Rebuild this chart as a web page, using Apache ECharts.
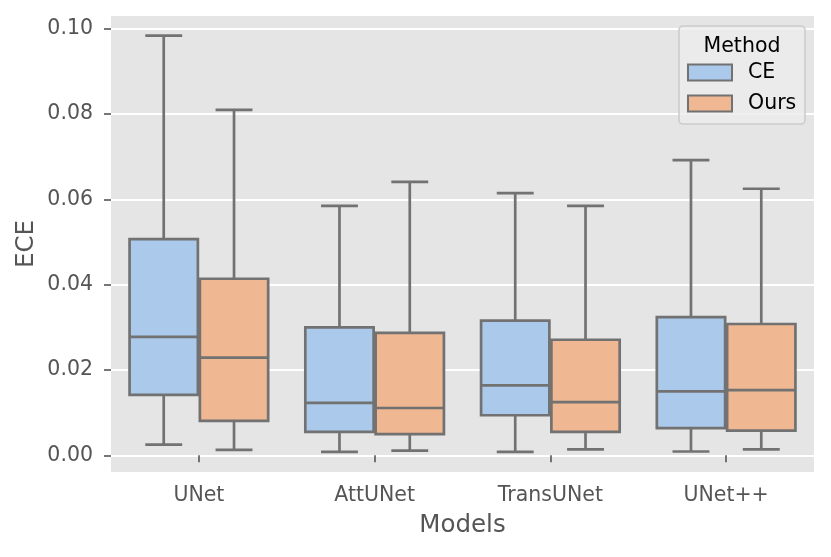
<!DOCTYPE html>
<html>
<head>
<meta charset="utf-8">
<script src="https://cdn.jsdelivr.net/npm/echarts@6/dist/echarts.min.js"></script>
<style>
  html, body { margin: 0; padding: 0; background: #fff; }
  #chart { width: 831px; height: 557px; }
</style>
</head>
<body>
<div id="chart"></div>
<script>
// models on the x axis
var categories = ['UNet', 'AttUNet', 'TransUNet', 'UNet++'];
// [low whisker, Q1, median, Q3, high whisker] per model
var ceStats = [
    [0.0025, 0.0142, 0.0278, 0.0507, 0.0984],
    [0.0008, 0.0055, 0.0123, 0.0300, 0.0585],
    [0.0008, 0.0094, 0.0164, 0.0316, 0.0615],
    [0.0009, 0.0064, 0.0150, 0.0324, 0.0692]
];
var oursStats = [
    [0.0013, 0.0081, 0.0229, 0.0414, 0.0810],
    [0.0011, 0.0050, 0.0111, 0.0287, 0.0641],
    [0.0014, 0.0055, 0.0125, 0.0271, 0.0585],
    [0.0014, 0.0058, 0.0153, 0.0308, 0.0625]
];
var yTicks = [0, 0.02, 0.04, 0.06, 0.08, 0.10];

var FONT = 'DejaVu Sans';
var LINE = '#727272';
var LW = 2.7;
var colors = { CE: '#abc9ea', Ours: '#efb792' };

function toData(stats) {
    var out = [];
    for (var i = 0; i < stats.length; i++) {
        out.push([i].concat(stats[i]));
    }
    return out;
}

// side: -1 left box (CE), +1 right box (Ours)
function makeRender(side, fill) {
    return function (params, api) {
        var ci = api.value(0);
        var band = api.size([1, 0])[0];
        var boxW = band * 0.4 - 2;
        var capW = band * 0.21;
        var cx = api.coord([ci, 0])[0] + side * band * 0.2;
        var yLow = api.coord([ci, api.value(1)])[1];
        var yQ1 = api.coord([ci, api.value(2)])[1];
        var yMed = api.coord([ci, api.value(3)])[1];
        var yQ3 = api.coord([ci, api.value(4)])[1];
        var yHigh = api.coord([ci, api.value(5)])[1];
        var ls = { stroke: LINE, lineWidth: LW, fill: null };
        return {
            type: 'group',
            children: [
                { type: 'line', shape: { x1: cx, y1: yQ3, x2: cx, y2: yHigh }, style: ls },
                { type: 'line', shape: { x1: cx, y1: yQ1, x2: cx, y2: yLow }, style: ls },
                { type: 'line', shape: { x1: cx - capW / 2, y1: yHigh, x2: cx + capW / 2, y2: yHigh }, style: ls },
                { type: 'line', shape: { x1: cx - capW / 2, y1: yLow, x2: cx + capW / 2, y2: yLow }, style: ls },
                {
                    type: 'rect',
                    shape: { x: cx - boxW / 2, y: yQ3, width: boxW, height: yQ1 - yQ3 },
                    style: { fill: fill, stroke: LINE, lineWidth: LW }
                },
                { type: 'line', shape: { x1: cx - boxW / 2, y1: yMed, x2: cx + boxW / 2, y2: yMed }, style: ls }
            ]
        };
    };
}

var myChart = echarts.init(document.getElementById('chart'));
myChart.setOption({
    animation: false,
    grid: {
        left: 111, right: 17, top: 16, bottom: 85,
        show: true, backgroundColor: '#e5e5e5', borderWidth: 0,
        outerBoundsMode: 'none'
    },
    xAxis: {
        type: 'category',
        data: categories,
        name: 'Models',
        nameLocation: 'middle',
        nameGap: 41,
        nameMoveOverlap: false,
        nameTextStyle: { fontFamily: FONT, fontSize: 24.5, color: '#555555' },
        axisLine: { show: false },
        axisTick: { show: true, alignWithLabel: true, length: 7, lineStyle: { color: '#555555', width: 1.6 } },
        axisLabel: { fontFamily: FONT, fontSize: 20.5, color: '#555555', margin: 13 },
        splitLine: { show: false }
    },
    yAxis: {
        type: 'value',
        min: -0.0039,
        max: 0.103,
        name: 'ECE',
        nameLocation: 'middle',
        nameGap: 72,
        nameMoveOverlap: false,
        nameTextStyle: { fontFamily: FONT, fontSize: 24.5, color: '#555555' },
        axisLine: { show: false },
        axisTick: { show: true, length: 7, customValues: yTicks, lineStyle: { color: '#555555', width: 1.6 } },
        axisLabel: {
            fontFamily: FONT, fontSize: 20.5, color: '#555555', margin: 18,
            customValues: yTicks,
            formatter: function (v) { return v.toFixed(2); }
        },
        splitLine: { show: true, lineStyle: { color: '#ffffff', width: 1.8 } }
    },
    legend: {
        orient: 'vertical',
        left: 687,
        top: 62,
        padding: 0,
        itemWidth: 44,
        itemHeight: 16,
        itemGap: 10,
        z: 10,
        textStyle: { fontFamily: FONT, fontSize: 20.5, color: '#000000', padding: [0, 0, 0, 11] },
        data: [
            { name: 'CE', icon: 'rect', itemStyle: { color: colors.CE, borderColor: LINE, borderWidth: 2 } },
            { name: 'Ours', icon: 'rect', itemStyle: { color: colors.Ours, borderColor: LINE, borderWidth: 2 } }
        ]
    },
    graphic: [
        {
            type: 'rect', z: 5,
            shape: { x: 679, y: 26, width: 126, height: 98, r: 4 },
            style: { fill: 'rgba(236,236,236,0.8)', stroke: '#cccccc', lineWidth: 1.6 }
        },
        {
            type: 'text', z: 6,
            style: {
                x: 742, y: 47, text: 'Method', textAlign: 'center', textVerticalAlign: 'middle',
                font: '20.5px "DejaVu Sans"', fill: '#000000'
            }
        }
    ],
    series: [
        {
            name: 'CE',
            type: 'custom',
            renderItem: makeRender(-1, colors.CE),
            itemStyle: { color: colors.CE },
            encode: { x: 0, y: [1, 2, 3, 4, 5] },
            data: toData(ceStats)
        },
        {
            name: 'Ours',
            type: 'custom',
            renderItem: makeRender(1, colors.Ours),
            itemStyle: { color: colors.Ours },
            encode: { x: 0, y: [1, 2, 3, 4, 5] },
            data: toData(oursStats)
        }
    ]
});
</script>
</body>
</html>
